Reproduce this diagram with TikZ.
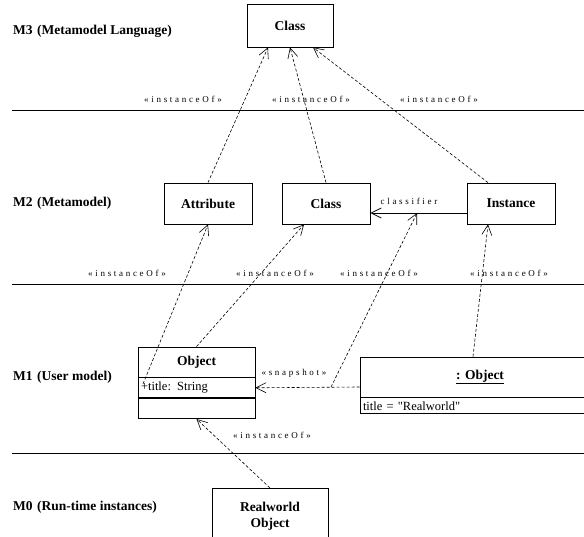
\documentclass[tikz,border=0pt]{standalone}
\usepackage{fontspec}
\setmainfont{Liberation Serif}[Ligatures=TeXOff]
\newfontfamily\spaced[LetterSpace=30,Ligatures=TeXOff]{Liberation Serif}
\usetikzlibrary{arrows.meta}
\tikzset{
  box/.style={draw, line width=0.8pt, rectangle, inner sep=0pt, font=\fontsize{13.5}{15}\selectfont\bfseries, align=center},
  comp/.style={draw, line width=0.8pt, rectangle, inner ysep=0pt, inner xsep=2pt, minimum height=20pt, font=\fontsize{12.5}{14}\selectfont},
  lvl/.style={anchor=west, inner sep=0pt, font=\fontsize{13.5}{15}\selectfont\bfseries},
  lab/.style={inner sep=0pt, font=\fontsize{9}{10}\spaced},
  dep/.style={dash pattern=on 3pt off 2pt, line width=0.6pt, -{Straight Barb[length=10pt,width=10pt]}},
  assoc/.style={line width=0.8pt, -{Straight Barb[length=10pt,width=10pt]}},
  sep/.style={line width=1pt}
}
\begin{document}
\begin{tikzpicture}[x=1pt,y=-1pt]
\clip (0,0) rectangle (584,537);
\fill[white] (0,0) rectangle (584,537);

% level labels
\node[lvl] (m3) at (13,31) {M3\,\,(Metamodel Language)};
\node[lvl] (m2) at (13,203) {M2\,\,(Metamodel)};
\node[lvl] (m1) at (13,377) {M1\,\,(User model)};
\node[lvl] (m0) at (13,507) {M0\,\,(Run-time instances)};

% separators
\coordinate (s1a) at (12,111); \coordinate (s1b) at (590,111);
\coordinate (s2a) at (12,285); \coordinate (s2b) at (590,285);
\coordinate (s3a) at (12,453); \coordinate (s3b) at (590,453);
\draw[sep] (s1a) -- (s1b);
\draw[sep] (s2a) -- (s2b);
\draw[sep] (s3a) -- (s3b);

% M3
\node[box, minimum width=86pt, minimum height=43pt] (m3class) at (290,25.5) {Class};

% M2
\node[box, minimum width=88pt, minimum height=41pt] (attr) at (208,203.5) {Attribute};
\node[box, minimum width=88pt, minimum height=41pt] (m2class) at (326,203.5) {Class};
\node[box, minimum width=88pt, minimum height=41pt] (inst) at (511,203.5) {Instance};

% M1 Object class
\node[box, minimum width=117pt, minimum height=30pt] (objhead) at (196.5,362) {Object};
\node[comp, minimum width=117pt, anchor=north, text width=111pt, align=left] (objattr) at (objhead.south) {+title: String};
\node[comp, minimum width=117pt, anchor=north] (objops) at (objattr.south) {};

% M1 :Object instance
\node[box, minimum width=240pt, minimum height=40pt] (iobj) at (480,377) {\underline{: Object}};
\node[comp, minimum width=240pt, minimum height=16pt, anchor=north, text width=234pt, align=left] (iattr) at (iobj.south) {title = "Realworld"};

% M0
\node[box, minimum width=116pt, minimum height=56pt, anchor=north] (rw) at (270,488) {Realworld\\[1pt]Object};

% helper coordinates
\coordinate (tailA) at (143,384);
\coordinate (snapmid) at (331,387);
\coordinate (clsmid) at (417,213);

% connectors M2 -> M3
\draw[dep] (attr.north) -- ([xshift=-22pt]m3class.south);
\draw[dep] (m2class.north) -- (m3class.south);
\draw[dep] ([xshift=-23pt]inst.north) -- ([xshift=23pt]m3class.south);

% classifier
\draw[assoc] ([yshift=-9.5pt]inst.west) -- ([yshift=-9.5pt]m2class.east);

% connectors M1 -> M2
\draw[dep] (tailA) -- (attr.south);
\draw[dep] (objhead.north) -- ([xshift=-22pt]m2class.south);
\draw[dep] (snapmid) -- (clsmid);
\draw[dep] ([xshift=-7pt]iobj.north) -- ([xshift=-23pt]inst.south);

% snapshot
\draw[dep] ([yshift=-10pt]iobj.west) -- (objattr.east);

% M0 -> M1
\draw[dep] (rw.north) -- (objops.south);

% labels
\node[lab] (l11) at (183,99) {«instanceOf»};
\node[lab] (l12) at (311,99) {«instanceOf»};
\node[lab] (l13) at (439,99) {«instanceOf»};
\node[lab] (l21) at (127,273) {«instanceOf»};
\node[lab] (l22) at (275,273) {«instanceOf»};
\node[lab] (l23) at (379,273) {«instanceOf»};
\node[lab] (l24) at (509,273) {«instanceOf»};
\node[lab] (l31) at (272,435) {«instanceOf»};
\node[lab] (lcl) at (409,201) {classifier};
\node[lab] (lsn) at (294,373) {«snapshot»};
\end{tikzpicture}
\end{document}
